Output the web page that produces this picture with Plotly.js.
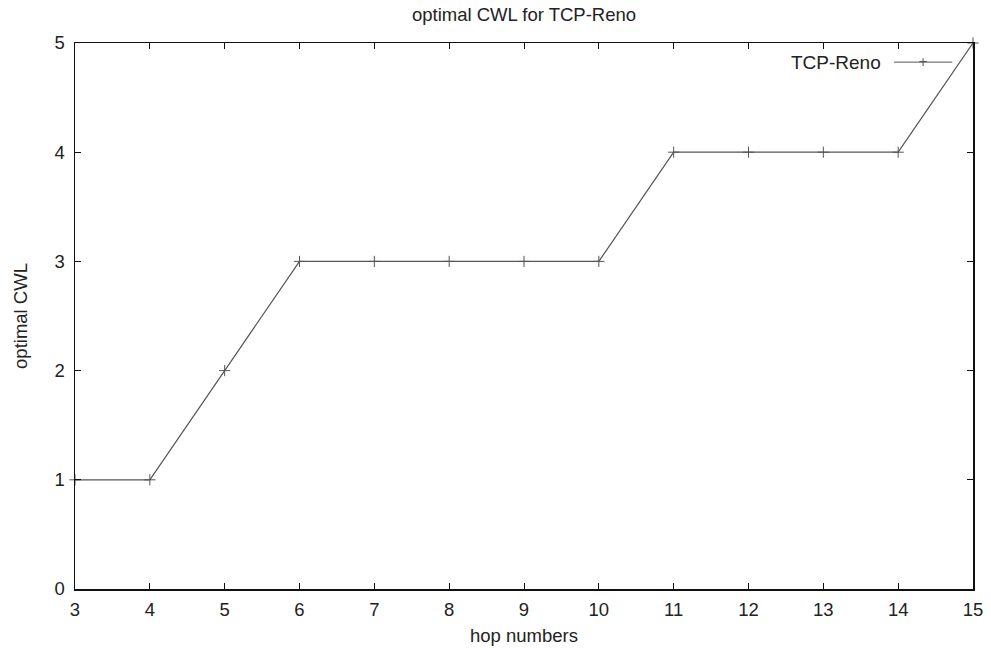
<!DOCTYPE html>
<html>
<head>
<meta charset="utf-8">
<script src="https://cdn.plot.ly/plotly-3.0.1.min.js"></script>
<style>html,body{margin:0;padding:0;background:#fff;}#chart{width:991px;height:648px;}</style>
</head>
<body>
<div id="chart"></div>
<script>
const hops = [3, 4, 5, 6, 7, 8, 9, 10, 11, 12, 13, 14, 15];
const cwl = [1, 1, 2, 3, 3, 3, 3, 3, 4, 4, 4, 4, 5];
const seriesName = 'TCP-Reno';
const xTicks = [3, 4, 5, 6, 7, 8, 9, 10, 11, 12, 13, 14, 15];
const yTicks = [0, 1, 2, 3, 4, 5];

const fam = 'Liberation Sans, Arial, sans-serif';
const font = {family: fam, size: 18.5, color: '#222'};
const lineColor = '#555';

const trace = {
  x: hops, y: cwl, name: seriesName, type: 'scatter', mode: 'lines+markers',
  line: {color: lineColor, width: 1.2},
  marker: {symbol: 'cross-thin', size: 8, line: {color: lineColor, width: 1}},
  showlegend: false, cliponaxis: false
};

const axisCommon = {
  showline: true, linecolor: '#111', linewidth: 1.5, mirror: 'ticks',
  ticks: 'inside', ticklen: 6, tickwidth: 1, tickcolor: '#111',
  showgrid: false, zeroline: false, tickfont: font
};

const layout = {
  width: 991, height: 648,
  margin: {l: 75, r: 18, t: 43, b: 59},
  paper_bgcolor: '#fff', plot_bgcolor: '#fff',
  title: {text: 'optimal CWL for TCP-Reno', font: {family: fam, size: 18.5, color: '#222'}, x: 0.5, xref: 'paper', y: 0.978, yanchor: 'middle'},
  xaxis: Object.assign({}, axisCommon, {
    range: [3, 15], tickvals: xTicks, ticktext: xTicks.map(String), ticklabelstandoff: 3,
    title: {text: 'hop numbers', font: {family: fam, size: 18.5, color: '#222'}, standoff: 10}
  }),
  yaxis: Object.assign({}, axisCommon, {
    range: [0, 5], tickvals: yTicks, ticktext: yTicks.map(String), ticklabelstandoff: 5,
    title: {text: 'optimal CWL', font: {family: fam, size: 18.5, color: '#222'}, standoff: 22}
  }),
  annotations: [
    {text: seriesName, xref: 'paper', yref: 'paper', x: 0.9, y: 0.965, xanchor: 'right', yanchor: 'middle', showarrow: false, font: {family: fam, size: 19, color: '#222'}},
    {text: '+', xref: 'paper', yref: 'paper', x: 0.944, y: 0.965, xanchor: 'center', yanchor: 'middle', showarrow: false, font: {family: 'DejaVu Sans', size: 12, color: lineColor}}
  ],
  shapes: [
    {type: 'line', xref: 'paper', yref: 'paper', x0: 0.912, x1: 0.977, y0: 0.965, y1: 0.965, line: {color: lineColor, width: 1}}
  ]
};

Plotly.newPlot('chart', [trace], layout, {displayModeBar: false, staticPlot: true});
</script>
</body>
</html>
